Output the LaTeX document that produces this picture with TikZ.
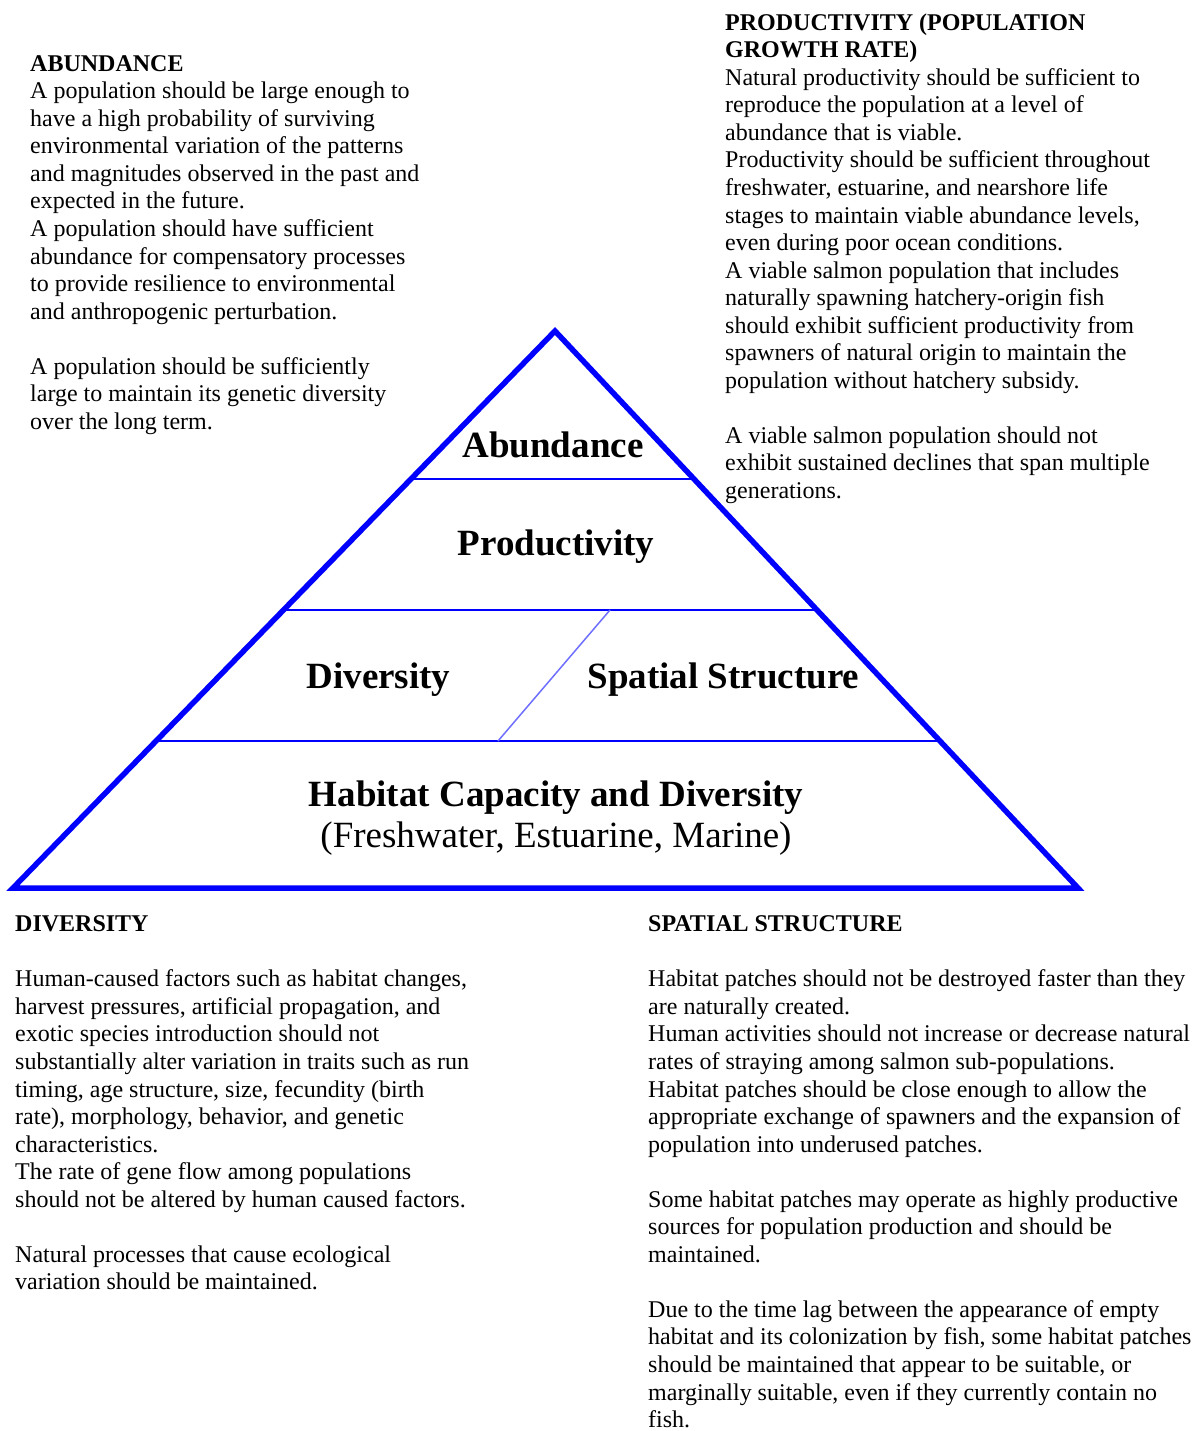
\documentclass[tikz,border=0pt]{standalone}
\usepackage{fontspec}
\setmainfont{Liberation Serif}
\usetikzlibrary{calc}
\definecolor{pyrblue}{RGB}{0,0,255}
\definecolor{divblue}{RGB}{110,110,255}
\tikzset{
  textblock/.style={anchor=north west, inner sep=0pt, align=left,
    font=\fontsize{24}{27.55}\selectfont},
  pyrlabel/.style={anchor=base, inner sep=0pt,
    font=\fontsize{37}{41}\selectfont\bfseries},
  pyrsub/.style={anchor=base, inner sep=0pt,
    font=\fontsize{37}{41}\selectfont},
  outline/.style={draw=pyrblue, line width=5.5pt, line join=miter},
  divider/.style={draw=pyrblue, line width=1.8pt},
  slant/.style={draw=divblue, line width=1.5pt}
}
\begin{document}
\begin{tikzpicture}[x=1pt,y=-1pt]
\useasboundingbox (0,0) rectangle (1196,1431);

% pyramid
\coordinate (apex) at (555,331);
\coordinate (bl) at (13,888);
\coordinate (br) at (1078,888);
\draw[outline] (bl) -- (apex) -- (br) -- cycle;

\coordinate (l1) at ($(apex)!0.2657!(bl)$);
\coordinate (r1) at ($(apex)!0.2657!(br)$);
\coordinate (l2) at ($(apex)!0.5009!(bl)$);
\coordinate (r2) at ($(apex)!0.5009!(br)$);
\coordinate (l3) at ($(apex)!0.7361!(bl)$);
\coordinate (r3) at ($(apex)!0.7361!(br)$);
\draw[divider] (l1) -- (r1);
\draw[divider] (l2) -- (r2);
\draw[divider] (l3) -- (r3);
\coordinate (st) at (610,610);
\coordinate (sb) at (498,741);
\draw[slant] (st) -- (sb);

\node[pyrlabel] (abund) at (553,457) {Abundance};
\node[pyrlabel] (prod) at (556,555) {Productivity};
\node[pyrlabel] (div) at (378.5,688) {Diversity};
\node[pyrlabel] (spat) at (723.5,688) {Spatial Structure};
\node[pyrlabel] (hab) at (556,806) {Habitat Capacity and Diversity};
\node[pyrsub] (habsub) at (556,847) {(Freshwater, Estuarine, Marine)};

% text blocks
\node[textblock] (tabund) at (30,51.7) {\strut\textbf{ABUNDANCE}\\
A population should be large enough to\\
have a high probability of surviving\\
environmental variation of the patterns\\
and magnitudes observed in the past and\\
expected in the future.\\
A population should have sufficient\\
abundance for compensatory processes\\
to provide resilience to environmental\\
and anthropogenic perturbation.\\[27.55pt]
A population should be sufficiently\\
large to maintain its genetic diversity\\
over the long term.};

\node[textblock] (tprod) at (725,10.7) {\strut\textbf{PRODUCTIVITY (POPULATION}\\
\textbf{GROWTH RATE)}\\
Natural productivity should be sufficient to\\
reproduce the population at a level of\\
abundance that is viable.\\
Productivity should be sufficient throughout\\
freshwater, estuarine, and nearshore life\\
stages to maintain viable abundance levels,\\
even during poor ocean conditions.\\
A viable salmon population that includes\\
naturally spawning hatchery-origin fish\\
should exhibit sufficient productivity from\\
spawners of natural origin to maintain the\\
population without hatchery subsidy.\\[27.55pt]
A viable salmon population should not\\
exhibit sustained declines that span multiple\\
generations.};

\node[textblock] (tdiv) at (15,912.2) {\strut\textbf{DIVERSITY}\\[27.55pt]
Human-caused factors such as habitat changes,\\
harvest pressures, artificial propagation, and\\
exotic species introduction should not\\
substantially alter variation in traits such as run\\
timing, age structure, size, fecundity (birth\\
rate), morphology, behavior, and genetic\\
characteristics.\\
The rate of gene flow among populations\\
should not be altered by human caused factors.\\[27.55pt]
Natural processes that cause ecological\\
variation should be maintained.};

\node[textblock] (tspat) at (648,912.2) {\strut\textbf{SPATIAL STRUCTURE}\\[27.55pt]
Habitat patches should not be destroyed faster than they\\
are naturally created.\\
Human activities should not increase or decrease natural\\
rates of straying among salmon sub-populations.\\
Habitat patches should be close enough to allow the\\
appropriate exchange of spawners and the expansion of\\
population into underused patches.\\[27.55pt]
Some habitat patches may operate as highly productive\\
sources for population production and should be\\
maintained.\\[27.55pt]
Due to the time lag between the appearance of empty\\
habitat and its colonization by fish, some habitat patches\\
should be maintained that appear to be suitable, or\\
marginally suitable, even if they currently contain no\\
fish.};
\end{tikzpicture}
\end{document}
